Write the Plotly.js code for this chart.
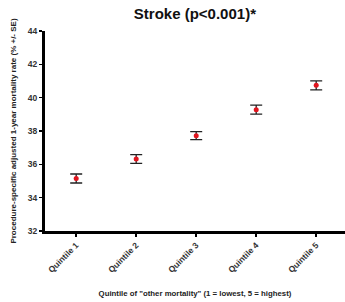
<!DOCTYPE html>
<html><head><meta charset="utf-8">
<script src="https://cdn.plot.ly/plotly-3.0.1.min.js"></script>
<style>html,body{margin:0;padding:0;background:#fff}#c{width:345px;height:302px}</style>
</head><body><div id="c"></div>
<script>
const categories = ["Quintile 1","Quintile 2","Quintile 3","Quintile 4","Quintile 5"];
const rates = [35.15, 36.32, 37.72, 39.28, 40.74];
const stdErrors = [0.27, 0.26, 0.24, 0.27, 0.27];
const yTicks = [32, 34, 36, 38, 40, 42, 44];

const font = "Liberation Sans, Arial, sans-serif";
const trace = {
  type: "scatter", mode: "markers",
  x: categories, y: rates,
  marker: {color: "#e0141e", size: 5, symbol: "circle"},
  error_y: {type: "data", array: stdErrors, visible: true, color: "#222", thickness: 1.3, width: 6},
  hoverinfo: "none"
};
const layout = {
  width: 345, height: 302,
  margin: {l: 45, r: 0, t: 31, b: 71},
  paper_bgcolor: "#fff", plot_bgcolor: "#fff",
  showlegend: false,
  font: {family: font, color: "#333"},
  title: {text: "<b>Stroke (p<0.001)*</b>", font: {family: font, size: 15, color: "#111"}, x: 0.565, xanchor: "center", y: 0.955, yanchor: "middle"},
  xaxis: {
    type: "category", range: [-0.52, 4.48],
    showline: true, linecolor: "#000", linewidth: 3, mirror: false,
    ticks: "outside", ticklen: 3, tickwidth: 2, tickcolor: "#000",
    tickangle: -45, tickfont: {family: font, size: 8.5, color: "#333", weight: "bold"},
    showgrid: false, zeroline: false,
    title: {text: "<b>Quintile of \"other mortality\" (1 = lowest, 5 = highest)</b>", font: {family: font, size: 7.8, color: "#222"}, standoff: 17}
  },
  yaxis: {
    range: [32, 44], tickvals: yTicks,
    showline: true, linecolor: "#000", linewidth: 3,
    ticks: "outside", ticklen: 3, tickwidth: 1.5, tickcolor: "#000",
    tickfont: {family: font, size: 8.5, color: "#333", weight: "bold"},
    showgrid: false, zeroline: false,
    title: {text: "<b>Procedure-specific adjusted 1-year mortality rate (% +/- SE)</b>", font: {family: font, size: 8, color: "#222"}, standoff: 11}
  }
};
Plotly.newPlot("c", [trace], layout, {displayModeBar: false, staticPlot: true});
</script></body></html>
